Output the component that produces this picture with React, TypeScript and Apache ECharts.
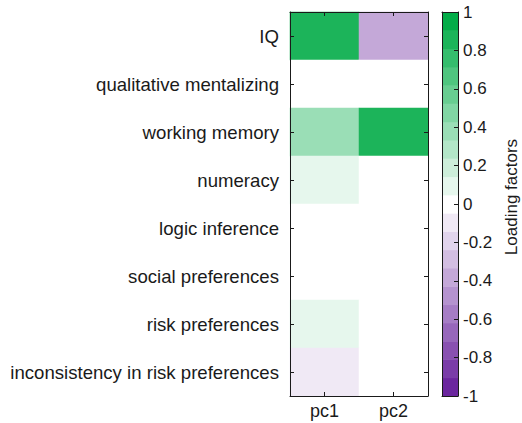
import React, { useEffect, useRef } from "react";
import * as echarts from "echarts";

// Measures (rows, top to bottom) and principal components (columns)
const measures = [
  "IQ",
  "qualitative mentalizing",
  "working memory",
  "numeracy",
  "logic inference",
  "social preferences",
  "risk preferences",
  "inconsistency in risk preferences",
];
const components = ["pc1", "pc2"];

// Loading of each measure on each component
const pc1Loadings = [0.88, 0.0, 0.38, 0.1, 0.0, 0.0, 0.1, -0.1];
const pc2Loadings = [-0.38, 0.0, 0.88, 0.0, 0.0, 0.0, 0.0, 0.0];

// Colour bar ticks
const barMin = -1;
const barMax = 1;
const barTickStep = 0.2;
const levelCount = 21;

const FONT = "'Liberation Sans', Arial, Helvetica, sans-serif";
const GREEN = [3, 172, 72];
const PURPLE = [107, 38, 158];
const INK = "#1a1a1a";

function mix(end: number[], t: number): string {
  const c = end.map((e) => Math.round(255 * (1 - t) + e * t));
  return `rgb(${c[0]},${c[1]},${c[2]})`;
}

// Discrete diverging colormap: 21 equal bands, white in the middle
const levelWidth = (barMax - barMin) / levelCount;
const levels = Array.from({ length: levelCount }, (_, j) => {
  const t = (j - (levelCount - 1) / 2) / ((levelCount - 1) / 2);
  const color = t >= 0 ? mix(GREEN, t) : mix(PURPLE, -t);
  return { lo: barMin + j * levelWidth, hi: barMin + (j + 1) * levelWidth, color };
});

const heatData: [number, number, number][] = [];
measures.forEach((_, r) => {
  heatData.push([0, r, pc1Loadings[r]]);
  heatData.push([1, r, pc2Loadings[r]]);
});

export default function App() {
  const ref = useRef<HTMLDivElement>(null);

  useEffect(() => {
    if (!ref.current) return;
    const chart = echarts.init(ref.current, null, { renderer: "svg" });
    const axisLine = { show: true, onZero: false, lineStyle: { color: INK, width: 1 } };
    const tick = { show: true, inside: true, length: 4, alignWithLabel: true, lineStyle: { color: INK } };
    const frameOnly = {
      axisLine,
      axisTick: { show: false },
      axisLabel: { show: false },
      splitLine: { show: false },
    };

    chart.setOption({
      animation: false,
      backgroundColor: "#fff",
      textStyle: { fontFamily: FONT },
      grid: [
        { left: 290, top: 12, width: 138, height: 384 },
        { left: 442, top: 12, width: 16, height: 384 },
      ],
      xAxis: [
        {
          type: "category",
          gridIndex: 0,
          data: components,
          position: "bottom",
          z: 5,
          axisLine,
          axisTick: tick,
          axisLabel: { fontSize: 18, color: INK, margin: 6, fontFamily: FONT },
          splitLine: { show: false },
        },
        {
          type: "category",
          gridIndex: 0,
          data: components,
          position: "top",
          z: 5,
          axisLine,
          axisTick: tick,
          axisLabel: { show: false },
        },
        { type: "value", gridIndex: 1, min: 0, max: 1, position: "bottom", z: 5, ...frameOnly },
        { type: "value", gridIndex: 1, min: 0, max: 1, position: "top", z: 5, ...frameOnly },
      ],
      yAxis: [
        {
          type: "category",
          gridIndex: 0,
          data: measures,
          inverse: true,
          position: "left",
          z: 5,
          axisLine,
          axisTick: tick,
          axisLabel: { fontSize: 18.6, color: INK, margin: 11, fontFamily: FONT },
        },
        {
          type: "category",
          gridIndex: 0,
          data: measures,
          inverse: true,
          position: "right",
          z: 5,
          axisLine,
          axisTick: tick,
          axisLabel: { show: false },
        },
        {
          type: "value",
          gridIndex: 1,
          min: barMin,
          max: barMax,
          interval: barTickStep,
          position: "right",
          z: 5,
          axisLine,
          axisTick: { show: true, inside: true, length: 4, lineStyle: { color: INK } },
          axisLabel: { fontSize: 17, color: INK, margin: 5, fontFamily: FONT },
          splitLine: { show: false },
          name: "Loading factors",
          nameLocation: "middle",
          nameGap: 45,
          nameTextStyle: { fontSize: 17, color: INK, fontFamily: FONT, padding: [0, 0, 0, 14] },
        },
        { type: "value", gridIndex: 1, min: barMin, max: barMax, position: "left", z: 5, ...frameOnly },
      ],
      visualMap: {
        type: "piecewise",
        show: false,
        seriesIndex: 0,
        dimension: 2,
        pieces: levels.map((l, j) => ({
          gte: l.lo,
          lt: j === levels.length - 1 ? l.hi + 1e-9 : l.hi,
          color: l.color,
        })),
      },
      series: [
        {
          type: "heatmap",
          xAxisIndex: 0,
          yAxisIndex: 0,
          data: heatData,
          itemStyle: { borderWidth: 0 },
          emphasis: { disabled: true },
        },
        {
          type: "custom",
          xAxisIndex: 2,
          yAxisIndex: 2,
          data: levels.map((l, j) => [l.lo, l.hi, j]),
          renderItem: (params: any, api: any) => {
            const lo = api.value(0);
            const hi = api.value(1);
            const j = api.value(2);
            const p1 = api.coord([0, hi]);
            const p2 = api.coord([1, lo]);
            return {
              type: "rect",
              shape: { x: p1[0], y: p1[1], width: p2[0] - p1[0], height: p2[1] - p1[1] + 0.5 },
              style: { fill: levels[j].color },
            };
          },
        },
      ],
    });

    return () => chart.dispose();
  }, []);

  return (
    <div
      ref={ref}
      style={{ position: "fixed", left: 0, top: 0, width: 522, height: 423, background: "#fff" }}
    />
  );
}
